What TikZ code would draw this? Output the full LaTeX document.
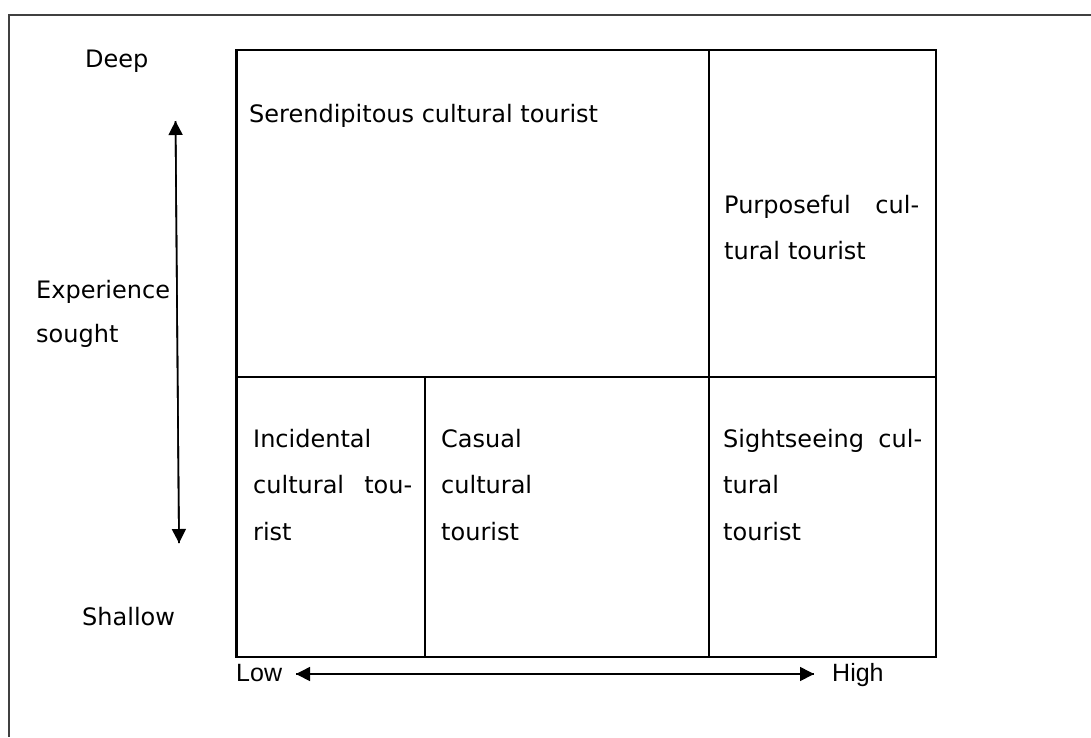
\documentclass[tikz,border=0pt]{standalone}
\usepackage{fontspec}
\setmainfont{DejaVu Sans}
\newfontfamily\narrowfont{Liberation Sans}
\usetikzlibrary{arrows.meta}
\begin{document}
\begin{tikzpicture}[x=1pt,y=-1pt,
  lbl/.style={inner sep=0pt,anchor=base west,font=\fontsize{24}{46.5}\selectfont,align=left},
  axislbl/.style={inner sep=0pt,anchor=base west,font=\narrowfont\fontsize{25}{28}\selectfont},
  grid/.style={line width=2.4pt,black},
  axis/.style={line width=1.6pt,-{Triangle[length=14pt,width=14pt]}},
  frame/.style={line width=2pt,black!75}]
\useasboundingbox (0,0) rectangle (1091,737);
\fill[white] (0,0) rectangle (1091,737);
% outer frame (open to the right and bottom)
\draw[frame] (1091,15) -- (9,15) -- (9,737);
% grid corners
\coordinate (tl) at (236.5,50);
\coordinate (tr) at (936,50);
\coordinate (bl) at (236.5,657);
\coordinate (br) at (936,657);
\coordinate (ml) at (236.5,377);
\coordinate (mr) at (936,377);
\coordinate (v1t) at (425,377);
\coordinate (v1b) at (425,657);
\coordinate (v2t) at (709,50);
\coordinate (v2b) at (709,657);
\draw[grid] (tl) rectangle (br);
\draw[grid] (ml) -- (mr);
\draw[grid] (v1t) -- (v1b);
\draw[grid] (v2t) -- (v2b);
% cell texts
\node[lbl] (seren) at (249,122) {Serendipitous cultural tourist};
\node[lbl,text width=195pt] (purp) at (724,213) {Purposeful\hfill cul-\\tural tourist};
\node[lbl,text width=159pt] (inci) at (253,447) {Incidental\\cultural\hfill tou-\\rist};
\node[lbl,text width=150pt] (casu) at (441,447) {Casual\\cultural\\tourist};
\node[lbl,text width=199pt] (sight) at (723,447) {Sightseeing\hfill cul-\\tural\\tourist};
% vertical axis
\node[lbl] (deep) at (85,67) {Deep};
\node[lbl] (shallow) at (82,625) {Shallow};
\node[lbl,text width=134pt,font=\fontsize{24}{44}\selectfont] (exp) at (36,298) {Experience\\sought};
\coordinate (vtop) at (175.5,121);
\coordinate (vbot) at (179,543);
\draw[axis] (vbot) -- (vtop);
\draw[axis] (vtop) -- (vbot);
% horizontal axis
\node[axislbl] (low) at (236,681) {Low};
\node[axislbl] (high) at (832,681) {High};
\coordinate (hl) at (296,674);
\coordinate (hr) at (814,674);
\draw[axis] (hr) -- (hl);
\draw[axis] (hl) -- (hr);
\end{tikzpicture}
\end{document}
